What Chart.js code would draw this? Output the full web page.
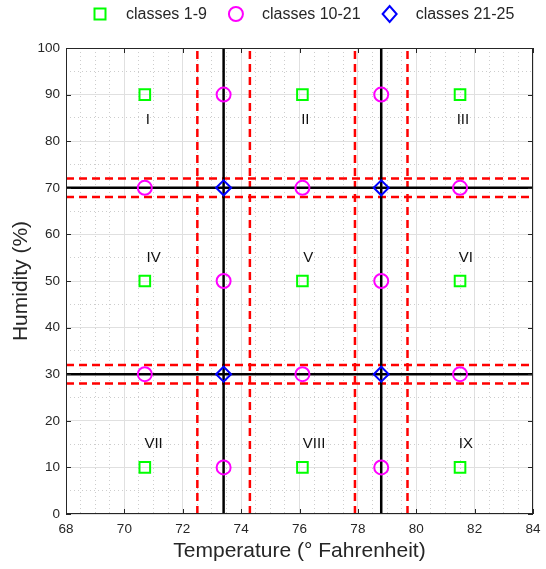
<!DOCTYPE html>
<html lang="en">
<head>
<meta charset="UTF-8">
<title>Humidity vs Temperature classes</title>
<script src="https://cdn.jsdelivr.net/npm/chart.js"></script>
<style>
    html, body { margin: 0; padding: 0; background: #fff; }
    #wrap { width: 546px; height: 569px; }
</style>
</head>
<body>
<div id="wrap"><canvas id="chart" width="546" height="569"></canvas></div>
<script>
// axis limits
const xMin = 68, xMax = 84;
const yMin = 0, yMax = 100;

// classes 1-9 (green squares)
const squareX = [70.7, 76.1, 81.5, 70.7, 76.1, 81.5, 70.7, 76.1, 81.5];
const squareY = [90, 90, 90, 50, 50, 50, 10, 10, 10];

// classes 10-21 (magenta circles)
const circleX = [73.4, 78.8, 70.7, 76.1, 81.5, 73.4, 78.8, 70.7, 76.1, 81.5, 73.4, 78.8];
const circleY = [90, 90, 70, 70, 70, 50, 50, 30, 30, 30, 10, 10];

// classes 21-25 (blue diamonds)
const diamondX = [73.4, 78.8, 73.4, 78.8];
const diamondY = [70, 70, 30, 30];

// boundary lines
const blackVX = [73.4, 78.8];
const blackHY = [70, 30];
const redVX = [72.5, 74.3, 77.9, 79.7];
const redHY = [72, 68, 32, 28];

// region labels
const regionNames = ['I', 'II', 'III', 'IV', 'V', 'VI', 'VII', 'VIII', 'IX'];
const regionX = [70.8, 76.2, 81.6, 71.0, 76.3, 81.7, 71.0, 76.5, 81.7];
const regionY = [84.5, 84.5, 84.5, 55, 55, 55, 15, 15, 15];

const legendNames = ['classes 1-9', 'classes 10-21', 'classes 21-25'];

const FONT = '"Liberation Sans", Arial, Helvetica, sans-serif';
const INK = '#262626';

const zip = (xs, ys) => xs.map((x, i) => ({ x: x, y: ys[i] }));

function markerSet(label, xs, ys, style, color, radius) {
    return {
        label: label,
        data: zip(xs, ys),
        pointStyle: style,
        pointRadius: radius,
        pointHoverRadius: radius,
        pointBorderWidth: 2,
        pointBorderColor: color,
        pointBackgroundColor: 'rgba(0,0,0,0)',
        showLine: false,
        order: 0
    };
}

function lineSet(points, color, dash, order) {
    return {
        label: '',
        data: points,
        showLine: true,
        borderColor: color,
        borderWidth: 2.5,
        borderDash: dash,
        pointRadius: 0,
        pointHoverRadius: 0,
        fill: false,
        order: order
    };
}

const datasets = [
    markerSet(legendNames[0], squareX, squareY, 'rect', '#00ff00', 7.5),
    markerSet(legendNames[1], circleX, circleY, 'circle', '#ff00ff', 7),
    markerSet(legendNames[2], diamondX, diamondY, 'rectRot', '#0000ff', 7.5)
];
blackVX.forEach(x => datasets.push(lineSet([{ x: x, y: yMin }, { x: x, y: yMax }], '#000', [], 1)));
blackHY.forEach(y => datasets.push(lineSet([{ x: xMin, y: y }, { x: xMax, y: y }], '#000', [], 1)));
redVX.forEach(x => datasets.push(lineSet([{ x: x, y: yMin }, { x: x, y: yMax }], '#ff0000', [8, 5], 2)));
redHY.forEach(y => datasets.push(lineSet([{ x: xMin, y: y }, { x: xMax, y: y }], '#ff0000', [8, 5], 2)));

const isMajorX = t => t && Math.abs(t.value / 2 - Math.round(t.value / 2)) < 1e-6;
const isMajorY = t => t && Math.abs(t.value / 10 - Math.round(t.value / 10)) < 1e-6;

// box, inner ticks and region names
const boxPlugin = {
    id: 'boxPlugin',
    afterDatasetsDraw(chart) {
        const { ctx, chartArea: a, scales } = chart;
        ctx.save();
        ctx.strokeStyle = INK;
        ctx.lineWidth = 1;
        ctx.strokeRect(a.left + 0.5, a.top + 0.5, a.right - a.left - 1, a.bottom - a.top - 1);
        ctx.beginPath();
        scales.x.ticks.filter(isMajorX).forEach(t => {
            const px = Math.round(scales.x.getPixelForValue(t.value)) + 0.5;
            ctx.moveTo(px, a.bottom); ctx.lineTo(px, a.bottom - 5);
            ctx.moveTo(px, a.top); ctx.lineTo(px, a.top + 5);
        });
        scales.y.ticks.filter(isMajorY).forEach(t => {
            const py = Math.round(scales.y.getPixelForValue(t.value)) + 0.5;
            ctx.moveTo(a.left, py); ctx.lineTo(a.left + 5, py);
            ctx.moveTo(a.right, py); ctx.lineTo(a.right - 5, py);
        });
        ctx.stroke();

        ctx.fillStyle = '#111';
        ctx.font = '15px ' + FONT;
        ctx.textAlign = 'center';
        ctx.textBaseline = 'middle';
        regionNames.forEach((name, i) => {
            ctx.fillText(name, scales.x.getPixelForValue(regionX[i]), scales.y.getPixelForValue(regionY[i]));
        });
        ctx.restore();
    },
    afterDraw(chart) {
        // legend across the top
        const ctx = chart.ctx;
        ctx.save();
        ctx.font = '16px ' + FONT;
        ctx.textBaseline = 'middle';
        ctx.textAlign = 'left';
        ctx.lineWidth = 2;
        let x = 100;
        const y = 14;
        chart.data.datasets.slice(0, 3).forEach(ds => {
            ctx.strokeStyle = ds.pointBorderColor;
            ctx.beginPath();
            if (ds.pointStyle === 'rect') {
                ctx.rect(x - 5.5, y - 5.5, 11, 11);
            } else if (ds.pointStyle === 'circle') {
                ctx.arc(x, y, 7, 0, Math.PI * 2);
            } else {
                ctx.moveTo(x - 7, y); ctx.lineTo(x, y - 8);
                ctx.lineTo(x + 7, y); ctx.lineTo(x, y + 8);
                ctx.closePath();
            }
            ctx.stroke();
            ctx.fillStyle = INK;
            ctx.fillText(ds.label, x + 26, y + 1);
            x += 26 + ctx.measureText(ds.label).width + 29;
        });
        ctx.restore();
    }
};

new Chart(document.getElementById('chart'), {
    type: 'scatter',
    data: { datasets: datasets },
    options: {
        responsive: false,
        animation: false,
        events: [],
        layout: { padding: { top: 48, right: 13, bottom: 0, left: 0 } },
        plugins: {
            legend: { display: false },
            tooltip: { enabled: false }
        },
        scales: {
            x: {
                type: 'linear',
                min: xMin,
                max: xMax,
                afterFit: s => { s.height = 55; s.paddingRight = 0; s.paddingLeft = 0; },
                ticks: {
                    stepSize: 0.5,
                    autoSkip: false,
                    maxRotation: 0,
                    padding: 7,
                    color: INK,
                    font: { family: FONT, size: 13.5 },
                    callback: v => (Math.abs(v / 2 - Math.round(v / 2)) < 1e-6 ? v : '')
                },
                grid: {
                    drawTicks: false,
                    lineWidth: 1,
                    color: c => (isMajorX(c.tick) ? '#e0e0e0' : '#cdcdcd')
                },
                border: {
                    display: false,
                    dash: c => (c.tick && !isMajorX(c.tick) ? [1, 3] : [])
                },
                title: {
                    display: true,
                    text: 'Temperature (° Fahrenheit)',
                    color: INK,
                    font: { family: FONT, size: 21 },
                    padding: { top: 0, bottom: 5 }
                }
            },
            y: {
                type: 'linear',
                min: yMin,
                max: yMax,
                afterFit: s => { s.width = 66; s.paddingTop = 0; s.paddingBottom = 0; },
                ticks: {
                    stepSize: 5,
                    autoSkip: false,
                    padding: 6,
                    color: INK,
                    font: { family: FONT, size: 13.5 },
                    callback: v => (Math.abs(v / 10 - Math.round(v / 10)) < 1e-6 ? v : '')
                },
                grid: {
                    drawTicks: false,
                    lineWidth: 1,
                    color: c => (isMajorY(c.tick) ? '#e0e0e0' : '#cdcdcd')
                },
                border: {
                    display: false,
                    dash: c => (c.tick && !isMajorY(c.tick) ? [1, 3] : [])
                },
                title: {
                    display: true,
                    text: 'Humidity (%)',
                    color: INK,
                    font: { family: FONT, size: 21 },
                    padding: { top: 9, bottom: 0 }
                }
            }
        }
    },
    plugins: [boxPlugin]
});
</script>
</body>
</html>
